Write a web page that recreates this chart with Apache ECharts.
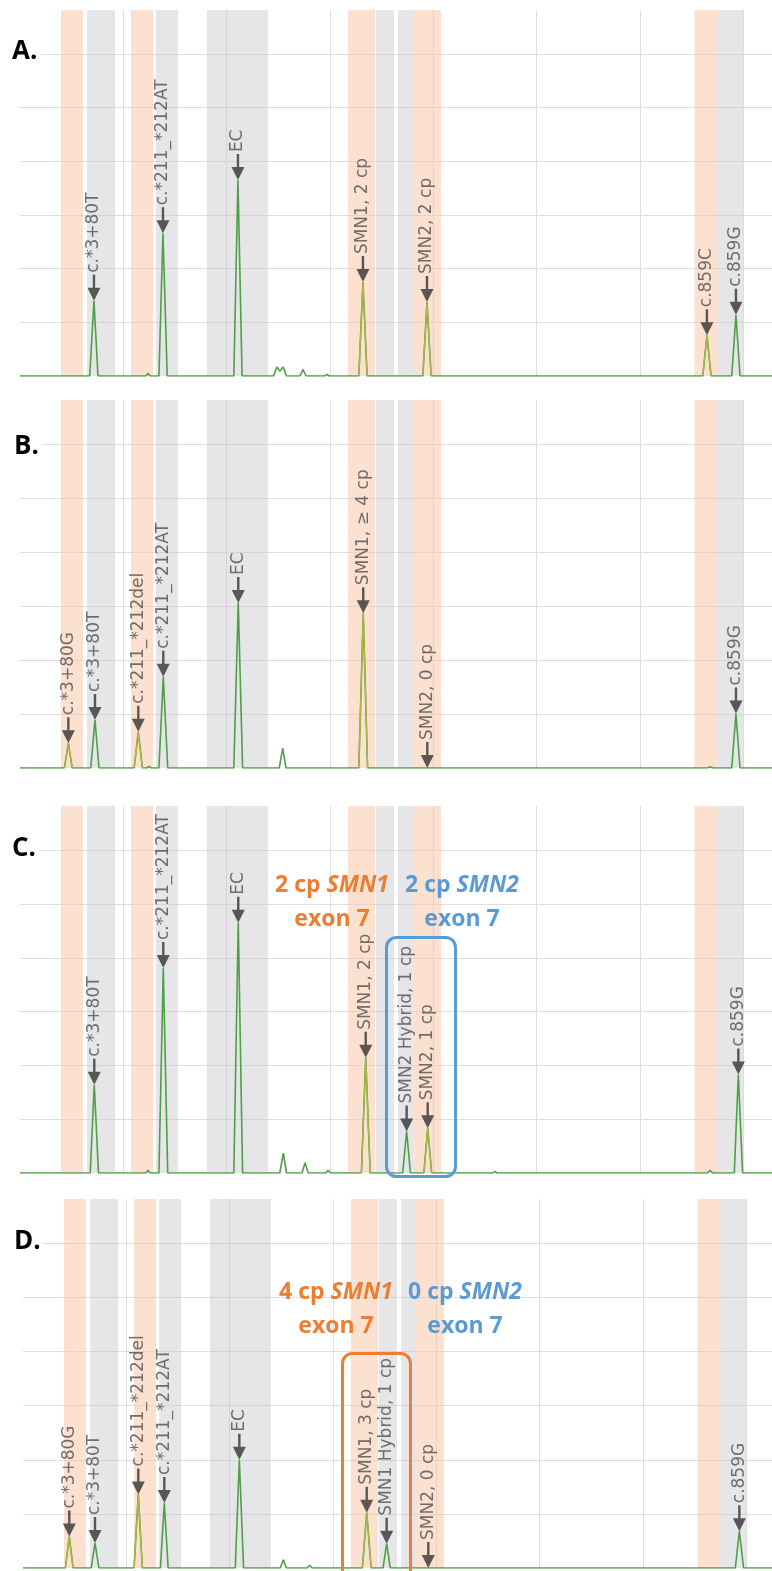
<!DOCTYPE html>
<html><head><meta charset="utf-8">
<script src="https://cdn.jsdelivr.net/npm/echarts@6/dist/echarts.min.js"></script>
<style>html,body{margin:0;padding:0;background:#fff}#c{width:772px;height:1571px}</style>
</head><body><div id="c"></div>
<script>
// ---------- data ----------
const panelNames = ['A.', 'B.', 'C.', 'D.'];
// size windows (x units) shaded in every panel
const orangeBands = [[3.97, 6.10], [10.75, 12.88], [31.75, 34.37], [38.04, 40.75], [65.3, 67.5]];
const grayBands = [[6.49, 9.20], [13.17, 15.30], [18.10, 24.0], [34.46, 36.2], [36.6, 38.04], [67.5, 70.0]];

// electropherogram traces [size, signal]
const traceA = [
  [0,0],[6.75,0],[7.16,1.40],[7.55,0],
  [12.2,0],[12.39,0.05],[12.6,0],
  [13.45,0],[13.84,2.66],[14.25,0],
  [20.7,0],[21.10,3.65],[21.5,0],
  [24.55,0],[24.88,0.17],[25.15,0.09],[25.46,0.17],[25.8,0],
  [27.1,0],[27.40,0.12],[27.7,0],
  [29.5,0],[29.72,0.03],[29.95,0],
  [32.8,0],[33.20,1.75],[33.6,0],
  [39.0,0],[39.40,1.38],[39.8,0],
  [45.6,0],[45.79,0.03],[46.0,0],
  [66.1,0],[66.50,0.76],[66.9,0],
  [68.9,0],[69.31,1.14],[69.7,0],
  [72.8,0]
];
const traceB = [
  [0,0],[4.3,0],[4.68,0.46],[5.05,0],
  [6.85,0],[7.26,0.89],[7.65,0],
  [11.05,0],[11.45,0.67],[11.85,0],
  [12.3,0],[12.5,0.03],[12.7,0],
  [13.45,0],[13.87,1.69],[14.3,0],
  [20.7,0],[21.13,3.06],[21.55,0],
  [25.1,0],[25.43,0.37],[25.75,0],
  [32.8,0],[33.23,2.87],[33.65,0],
  [66.5,0],[66.8,0.02],[67.1,0],
  [68.9,0],[69.31,1.01],[69.7,0],
  [72.8,0]
];
const traceC = [
  [0,0],[6.8,0],[7.19,1.64],[7.6,0],
  [12.2,0],[12.39,0.05],[12.6,0],
  [13.45,0],[13.87,3.81],[14.3,0],
  [20.7,0],[21.13,4.65],[21.55,0],
  [25.15,0],[25.49,0.37],[25.8,0],
  [27.3,0],[27.59,0.19],[27.9,0],
  [29.6,0],[29.82,0.05],[30.05,0],
  [33.05,0],[33.47,2.14],[33.9,0],
  [37.05,0],[37.43,0.77],[37.8,0],
  [39.1,0],[39.47,0.83],[39.85,0],
  [45.75,0],[45.98,0.03],[46.2,0],
  [66.55,0],[66.8,0.05],[67.05,0],
  [69.15,0],[69.54,1.83],[69.95,0],
  [72.8,0]
];
const traceD = [
  [0,0],[4.1,0],[4.48,0.58],[4.85,0],
  [6.6,0],[6.97,0.46],[7.35,0],
  [10.75,0],[11.16,1.36],[11.55,0],
  [13.3,0],[13.68,1.20],[14.05,0],
  [20.55,0],[20.94,2.0],[21.35,0],
  [24.9,0],[25.2,0.15],[25.5,0],
  [27.5,0],[27.75,0.05],[28.0,0],
  [32.85,0],[33.27,1.02],[33.7,0],
  [34.85,0],[35.2,0.45],[35.55,0],
  [68.95,0],[69.34,0.68],[69.75,0],
  [72.5,0]
];
// second (yellow) dye peaks inside the orange windows
const oliveA = [[32.8,0],[33.20,1.75],[33.6,0],'-',[39.0,0],[39.40,1.38],[39.8,0],'-',[66.1,0],[66.50,0.76],[66.9,0]];
const oliveB = [[4.3,0],[4.68,0.46],[5.05,0],'-',[11.05,0],[11.45,0.67],[11.85,0],'-',[32.8,0],[33.23,2.87],[33.65,0]];
const oliveC = [[33.05,0],[33.47,2.14],[33.9,0],'-',[39.1,0],[39.47,0.83],[39.85,0]];
const oliveD = [[4.1,0],[4.48,0.58],[4.85,0],'-',[10.75,0],[11.16,1.36],[11.55,0],'-',[32.85,0],[33.27,1.02],[33.7,0]];

// called peaks [size, signal, label]
const callsA = [
  [7.16,1.40,'c.*3+80T'],[13.84,2.66,'c.*211_*212AT'],[21.10,3.65,'EC'],
  [33.20,1.75,'SMN1, 2 cp'],[39.40,1.38,'SMN2, 2 cp'],[66.50,0.76,'c.859C'],[69.31,1.14,'c.859G']
];
const callsB = [
  [4.68,0.46,'c.*3+80G'],[7.26,0.89,'c.*3+80T'],[11.45,0.67,'c.*211_*212del'],[13.87,1.69,'c.*211_*212AT'],
  [21.13,3.06,'EC'],[33.23,2.87,'SMN1, \u2265 4 cp'],[39.43,0,'SMN2, 0 cp'],[69.31,1.01,'c.859G']
];
const callsC = [
  [7.19,1.64,'c.*3+80T'],[13.87,3.81,'c.*211_*212AT'],[21.13,4.65,'EC'],[33.47,2.14,'SMN1, 2 cp'],
  [37.43,0.77,'SMN2 Hybrid, 1 cp'],[39.47,0.83,'SMN2, 1 cp'],[69.54,1.83,'c.859G']
];
const callsD = [
  [4.48,0.58,'c.*3+80G'],[6.97,0.46,'c.*3+80T'],[11.16,1.36,'c.*211_*212del'],[13.68,1.20,'c.*211_*212AT'],
  [20.94,2.0,'EC'],[33.27,1.02,'SMN1, 3 cp'],[35.2,0.45,'SMN1 Hybrid, 1 cp'],[39.23,0,'SMN2, 0 cp'],[69.34,0.68,'c.859G']
];

const traces = [traceA, traceB, traceC, traceD];
const olives = [oliveA, oliveB, oliveC, oliveD];
const calls = [callsA, callsB, callsC, callsD];

// ---------- layout / style ----------
const grids = [
  {left: 20, top: 10, width: 752, height: 366},
  {left: 20, top: 400, width: 752, height: 368},
  {left: 20, top: 806, width: 752, height: 367},
  {left: 23, top: 1199, width: 752, height: 369}
];
const xMax = [72.8, 72.8, 72.8, 72.5];
const letterPos = [[12, 52], [14, 447], [12, 849], [14, 1242]];
const ARROW = 'path://M5.3,0 L7.7,0 L7.7,13 L13,13 L6.5,26 L0,13 L5.3,13 Z';
const GREEN = '#4f9f46', OLIVE = '#aeb642';
const ORANGE = '#ed7d31', BLUE = '#5b9bd5';

const splitStyle = {show: true, showMinLine: false, showMaxLine: false, lineStyle: {color: '#dedede', width: 1}};
const xAxis = [], yAxis = [], series = [];
grids.forEach((g, i) => {
  xAxis.push({type: 'value', gridIndex: i, min: 0, max: xMax[i], interval: 10,
    axisLine: {show: false}, axisTick: {show: false}, axisLabel: {show: false}, splitLine: splitStyle});
  yAxis.push({type: 'value', gridIndex: i, min: 0, max: 6.82, interval: 1,
    axisLine: {show: false}, axisTick: {show: false}, axisLabel: {show: false}, splitLine: splitStyle});
  const areas = [];
  orangeBands.forEach(b => areas.push([{xAxis: b[0], itemStyle: {color: 'rgba(249,196,163,0.5)'}}, {xAxis: b[1]}]));
  grayBands.forEach(b => areas.push([{xAxis: b[0], itemStyle: {color: 'rgba(196,196,202,0.42)'}}, {xAxis: b[1]}]));
  series.push({
    type: 'line', xAxisIndex: i, yAxisIndex: i, data: traces[i], showSymbol: false, z: 2,
    lineStyle: {color: GREEN, width: 1.6}, silent: true,
    markArea: {silent: true, data: areas}
  });
  series.push({
    type: 'line', xAxisIndex: i, yAxisIndex: i, data: olives[i], showSymbol: false, z: 3,
    connectNulls: false, lineStyle: {color: OLIVE, width: 1.3}, silent: true
  });
  series.push({
    type: 'scatter', xAxisIndex: i, yAxisIndex: i, z: 5, silent: true,
    data: calls[i].map(c => ({value: [c[0], c[1]], name: c[2]})),
    symbol: ARROW, symbolSize: [13, 26], symbolOffset: [0, '-50%'],
    itemStyle: {color: '#333'},
    label: {show: true, formatter: p => p.name, position: 'top', distance: 2, rotate: 90,
      align: 'left', verticalAlign: 'middle', color: '#4d4d4d', fontSize: 17, fontFamily: 'DejaVu Sans'}
  });
});

const graphic = [];
panelNames.forEach((n, i) => graphic.push({type: 'text', x: letterPos[i][0], y: letterPos[i][1], z: 10,
  style: {text: n, font: 'bold 26px "Open Sans"', fill: '#000', textVerticalAlign: 'middle',
    backgroundColor: '#fff', padding: [2, 3, 2, 0]}}));

function note(x, y, num, gene, color) {
  graphic.push({type: 'text', x: x, y: y, z: 10, style: {
    text: '{n|' + num + ' cp }{i|' + gene + '}', textAlign: 'center', textVerticalAlign: 'middle',
    rich: {n: {fontFamily: 'Open Sans', fontWeight: 'bold', fontSize: 23, fill: color},
           i: {fontFamily: 'Open Sans', fontWeight: 'bold', fontStyle: 'italic', fontSize: 23, fill: color}}}});
  graphic.push({type: 'text', x: x, y: y + 34, z: 10, style: {
    text: 'exon 7', textAlign: 'center', textVerticalAlign: 'middle',
    font: 'bold 23px "Open Sans"', fill: color}});
}
note(332, 885, 2, 'SMN1', ORANGE);
note(462, 885, 2, 'SMN2', BLUE);
note(336, 1292, 4, 'SMN1', ORANGE);
note(465, 1292, 0, 'SMN2', BLUE);
graphic.push({type: 'rect', z: 9, shape: {x: 386.5, y: 937.5, width: 69, height: 239, r: 10},
  style: {fill: 'none', stroke: BLUE, lineWidth: 3}});
graphic.push({type: 'rect', z: 9, shape: {x: 342.5, y: 1353.5, width: 68, height: 240, r: 10},
  style: {fill: 'none', stroke: ORANGE, lineWidth: 3}});

const chart = echarts.init(document.getElementById('c'), null, {renderer: 'canvas'});
chart.setOption({animation: false, backgroundColor: '#fff', grid: grids, xAxis, yAxis, series, graphic});
</script></body></html>
